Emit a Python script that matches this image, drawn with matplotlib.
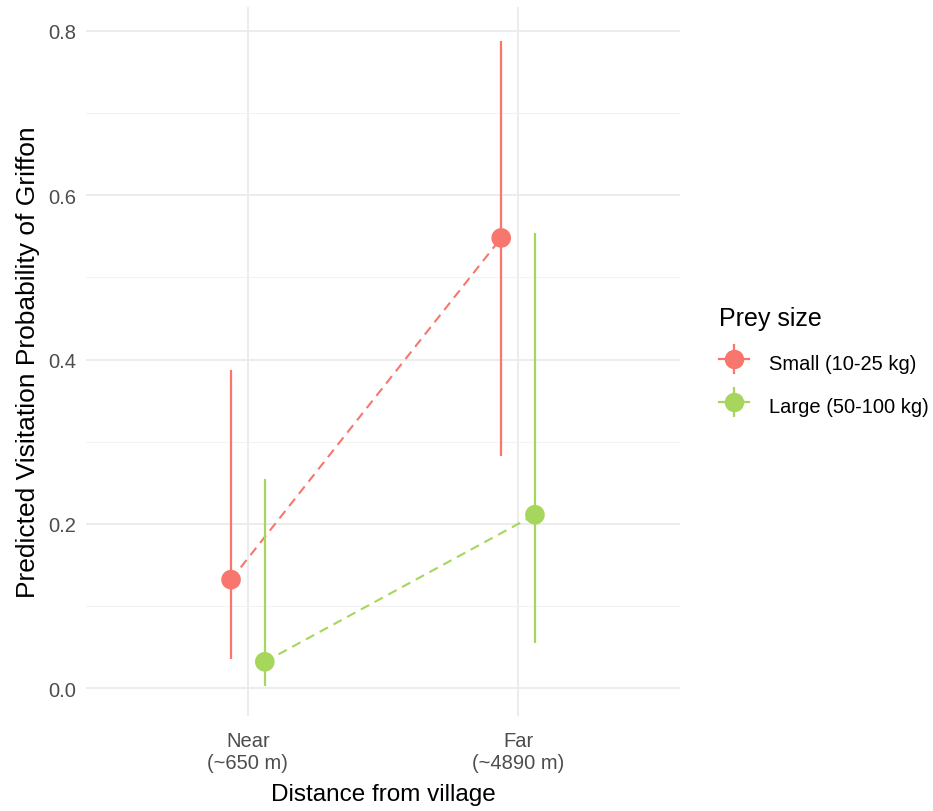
"""Predicted griffon visitation probability by distance and prey size."""

import matplotlib

matplotlib.use("Agg")
import matplotlib.pyplot as plt  # noqa: E402
from matplotlib.legend_handler import HandlerTuple  # noqa: E402
from matplotlib.lines import Line2D  # noqa: E402
import numpy as np  # noqa: E402

DISTANCE_LABELS = ["Near\n(~650 m)", "Far\n(~4890 m)"]
PREY_SIZES = ["Small (10-25 kg)", "Large (50-100 kg)"]

SMALL_PRED = [0.132, 0.548]
SMALL_LOW = [0.035, 0.282]
SMALL_HIGH = [0.387, 0.788]

LARGE_PRED = [0.032, 0.211]
LARGE_LOW = [0.003, 0.055]
LARGE_HIGH = [0.255, 0.554]

COLORS = ["#F8766D", "#A6D65C"]
DODGE = [-0.0625, 0.0625]

plt.rcParams["font.family"] = ["Liberation Sans", "DejaVu Sans"]

fig = plt.figure(figsize=(9.33, 8.12), dpi=100)
ax = fig.add_axes([0.092, 0.117, 0.637, 0.873])

x = np.arange(1, len(DISTANCE_LABELS) + 1)
series = [
    (SMALL_PRED, SMALL_LOW, SMALL_HIGH),
    (LARGE_PRED, LARGE_LOW, LARGE_HIGH),
]
handles = []
for (pred, low, high), color, shift in zip(series, COLORS, DODGE):
    xs = x + shift
    ax.plot(xs, pred, color=color, lw=1.5, dashes=(4.5, 3), zorder=2)
    ax.vlines(xs, low, high, color=color, lw=1.6, zorder=3)
    ax.scatter(xs, pred, s=200, color=color, edgecolors="none", zorder=4)
    # legend key: horizontal line, vertical range and point stacked together
    handles.append(
        (
            Line2D([], [], color=color, lw=1.6),
            Line2D([], [], color=color, lw=0, marker="|", markersize=22,
                   markeredgewidth=1.6),
            Line2D([], [], color=color, lw=0, marker="o", markersize=13),
        )
    )

ax.set_xlim(0.4, 2.6)
ax.set_ylim(-0.034, 0.829)
ax.set_xticks(x)
ax.set_xticklabels(DISTANCE_LABELS)
ax.set_yticks([0.0, 0.2, 0.4, 0.6, 0.8])
ax.set_yticklabels(["0.0", "0.2", "0.4", "0.6", "0.8"])
ax.set_yticks([0.1, 0.3, 0.5, 0.7], minor=True)
ax.grid(True, which="major", color="#EBEBEB", lw=1.3)
ax.grid(True, which="minor", axis="y", color="#F2F2F2", lw=0.8)
ax.set_axisbelow(True)
for spine in ax.spines.values():
    spine.set_visible(False)
ax.tick_params(which="both", length=0, labelsize=14.5, labelcolor="#4D4D4D",
               pad=7)
ax.tick_params(axis="x", pad=11)

ax.set_xlabel("Distance from village", fontsize=17.5, labelpad=8)
ax.set_ylabel("Predicted Visitation Probability of Griffon", fontsize=19,
              labelpad=6)

leg = fig.legend(
    handles,
    PREY_SIZES,
    handler_map={tuple: HandlerTuple(ndivide=1, pad=0)},
    title="Prey size",
    loc="center left",
    bbox_to_anchor=(0.751, 0.553),
    frameon=False,
    fontsize=14.5,
    title_fontsize=18,
    handlelength=1.5,
    handleheight=1.6,
    handletextpad=1.0,
    labelspacing=0.85,
)
leg._legend_box.align = "left"
leg._legend_box.sep = 14

fig.savefig("out.png", dpi=100)
